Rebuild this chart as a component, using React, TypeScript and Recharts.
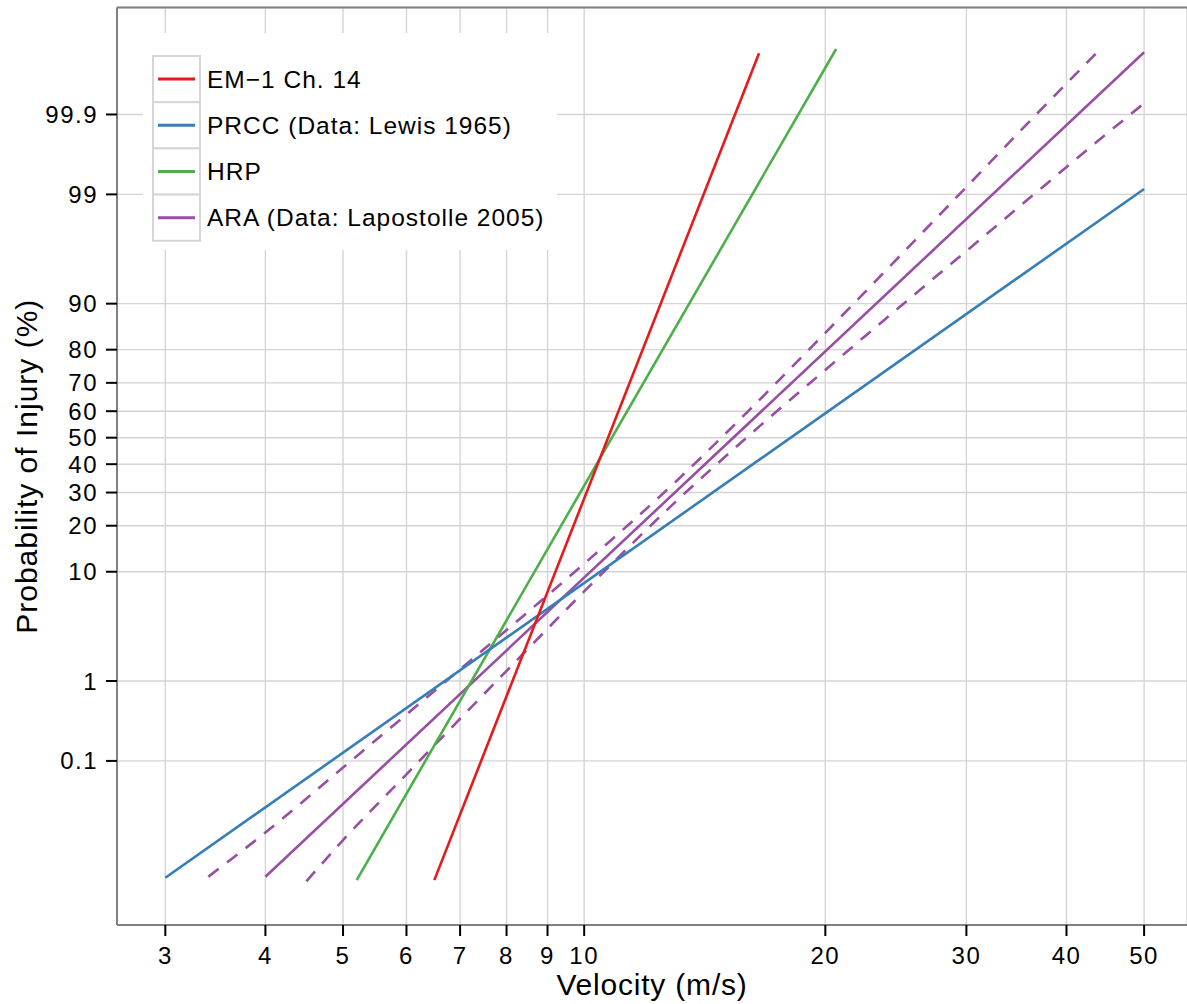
import React from 'react';
import {
  LineChart,
  Line,
  XAxis,
  YAxis,
  CartesianGrid,
  ReferenceLine,
  Legend,
  Label,
} from 'recharts';

// each line: velocity (m/s) -> normal score (probit) of the injury probability
const emLine = [
  { v: 6.5, z: -4.23 },
  { v: 16.53, z: 3.675 },
];
const prccLine = [
  { v: 3, z: -4.207 },
  { v: 50, z: 2.378 },
];
const hrpLine = [
  { v: 5.2, z: -4.229 },
  { v: 20.63, z: 3.716 },
];
const araLine = [
  { v: 4.0, z: -4.197 },
  { v: 50, z: 3.685 },
];
// ARA confidence band (dashed)
const araUpper = [
  { v: 3.395, z: -4.197 },
  { v: 4, z: -3.775 },
  { v: 5, z: -3.154 },
  { v: 6, z: -2.646 },
  { v: 7, z: -2.214 },
  { v: 8, z: -1.839 },
  { v: 10, z: -1.205 },
  { v: 13, z: -0.423 },
  { v: 16, z: 0.249 },
  { v: 20, z: 1.003 },
  { v: 25, z: 1.768 },
  { v: 30, z: 2.397 },
  { v: 36, z: 3.027 },
  { v: 43.65, z: 3.681 },
];
const araLower = [
  { v: 4.5, z: -4.241 },
  { v: 5, z: -3.847 },
  { v: 6, z: -3.218 },
  { v: 7, z: -2.687 },
  { v: 8, z: -2.229 },
  { v: 10, z: -1.47 },
  { v: 13, z: -0.614 },
  { v: 16, z: 0.01 },
  { v: 20, z: 0.648 },
  { v: 25, z: 1.276 },
  { v: 30, z: 1.785 },
  { v: 36, z: 2.293 },
  { v: 43.65, z: 2.829 },
  { v: 50, z: 3.197 },
];

const xTicks = [3, 4, 5, 6, 7, 8, 9, 10, 20, 30, 40, 50];
const yTickLabels = [0.1, 1, 10, 20, 30, 40, 50, 60, 70, 80, 90, 99, 99.9];

const legendItems = [
  { name: 'EM\u22121 Ch. 14', color: '#E41A1C' },
  { name: 'PRCC (Data: Lewis 1965)', color: '#377EB8' },
  { name: 'HRP', color: '#4DAF4A' },
  { name: 'ARA (Data: Lapostolle 2005)', color: '#984EA3' },
];

const font = '"Liberation Sans", Arial, Helvetica, sans-serif';

// inverse normal cdf (Acklam), used for the probit y scale
const probit = (p: number) => {
  const a = [-39.69683028665376, 220.9460984245205, -275.9285104469687, 138.357751867269, -30.66479806614716, 2.506628277459239];
  const b = [-54.47609879822406, 161.5858368580409, -155.6989798598866, 66.80131188771972, -13.28068155288572];
  const c = [-0.007784894002430293, -0.3223964580411365, -2.400758277161838, -2.549732539343734, 4.374664141464968, 2.938163982698783];
  const d = [0.007784695709041462, 0.3224671290700398, 2.445134137142996, 3.754408661907416];
  const pl = 0.02425;
  if (p < pl) {
    const q = Math.sqrt(-2 * Math.log(p));
    return (((((c[0] * q + c[1]) * q + c[2]) * q + c[3]) * q + c[4]) * q + c[5]) /
      ((((d[0] * q + d[1]) * q + d[2]) * q + d[3]) * q + 1);
  }
  if (p > 1 - pl) {
    const q = Math.sqrt(-2 * Math.log(1 - p));
    return -(((((c[0] * q + c[1]) * q + c[2]) * q + c[3]) * q + c[4]) * q + c[5]) /
      ((((d[0] * q + d[1]) * q + d[2]) * q + d[3]) * q + 1);
  }
  const q = p - 0.5;
  const r = q * q;
  return ((((((a[0] * r + a[1]) * r + a[2]) * r + a[3]) * r + a[4]) * r + a[5]) * q) /
    (((((b[0] * r + b[1]) * r + b[2]) * r + b[3]) * r + b[4]) * r + 1);
};

const yTicks = yTickLabels.map((p) => probit(p / 100));
const Y_MIN = -4.659;
const Y_MAX = 4.113;

const yLabel = (value: number) => {
  const i = yTicks.findIndex((t) => Math.abs(t - value) < 1e-6);
  return i >= 0 ? String(yTickLabels[i]) : '';
};

const XTick = (props: any) => (
  <text
    x={props.x}
    y={props.y}
    dy="0.71em"
    textAnchor="middle"
    fontSize={24}
    fontFamily={font}
    letterSpacing={1.5}
    fill="#000"
  >
    {props.payload.value}
  </text>
);

const YTick = (props: any) => (
  <text
    x={props.x}
    y={props.y}
    dy="0.355em"
    textAnchor="end"
    fontSize={24}
    fontFamily={font}
    letterSpacing={1.5}
    fill="#000"
  >
    {yLabel(props.payload.value)}
  </text>
);

const renderLegend = () => (
  <svg width={414} height={217} style={{ display: 'block', background: '#fff' }}>
    {legendItems.map((item, i) => {
      const top = 23 + i * 46.2;
      const cy = top + 23.1;
      return (
        <g key={item.name}>
          <rect x={10} y={top} width={47} height={46.2} fill="#fff" stroke="#d6d6d6" strokeWidth={2} />
          <line x1={15} x2={52} y1={cy} y2={cy} stroke={item.color} strokeWidth={3} />
          <text
            x={64}
            y={cy}
            dominantBaseline="central"
            fontSize={24.5}
            fontFamily={font}
            letterSpacing={1}
            fill="#000"
          >
            {item.name}
          </text>
        </g>
      );
    })}
  </svg>
);

const renderXTitle = (props: any) => {
  const vb = props.viewBox;
  return (
    <text
      x={vb.x + vb.width / 2}
      y={995}
      textAnchor="middle"
      fontSize={30}
      fontFamily={font}
      letterSpacing={0.8}
      fill="#000"
    >
      Velocity (m/s)
    </text>
  );
};

const renderYTitle = (props: any) => {
  const vb = props.viewBox;
  const cy = vb.y + vb.height / 2;
  return (
    <text
      x={26}
      y={cy}
      transform={`rotate(-90 26 ${cy})`}
      textAnchor="middle"
      dominantBaseline="central"
      fontSize={30}
      fontFamily={font}
      letterSpacing={1}
      fill="#000"
    >
      Probability of Injury (%)
    </text>
  );
};

const App = () => {
  return (
    <div style={{ width: 1187, height: 1004, background: '#fff' }}>
      <style>{'body{margin:0}'}</style>
      <LineChart width={1187} height={1004} margin={{ top: 7.5, right: 0, bottom: 0, left: 0 }}>
        <CartesianGrid stroke="#d4d4d4" strokeWidth={1.4} />
        <XAxis
          dataKey="v"
          type="number"
          scale="log"
          domain={[2.611, 56.56]}
          allowDataOverflow
          ticks={xTicks}
          interval={0}
          height={79}
          tickSize={11}
          tickMargin={11}
          axisLine={{ stroke: '#808080', strokeWidth: 2 }}
          tickLine={{ stroke: '#000', strokeWidth: 2 }}
          tick={<XTick />}
        >
          <Label content={renderXTitle} />
        </XAxis>
        <YAxis
          type="number"
          domain={[Y_MIN, Y_MAX]}
          allowDataOverflow
          ticks={yTicks}
          interval={0}
          width={117}
          tickSize={11}
          tickMargin={8}
          axisLine={{ stroke: '#808080', strokeWidth: 2 }}
          tickLine={{ stroke: '#000', strokeWidth: 2 }}
          tick={<YTick />}
        >
          <Label content={renderYTitle} />
        </YAxis>
        <ReferenceLine y={Y_MAX} stroke="#808080" strokeWidth={2} />
        <Line data={araUpper} dataKey="z" type="monotone" stroke="#984EA3" strokeWidth={2.6} strokeDasharray="13 10.5" dot={false} legendType="none" isAnimationActive={false} />
        <Line data={araLower} dataKey="z" type="monotone" stroke="#984EA3" strokeWidth={2.6} strokeDasharray="13 10.5" dot={false} legendType="none" isAnimationActive={false} />
        <Line data={araLine} dataKey="z" type="linear" stroke="#984EA3" strokeWidth={2.6} dot={false} isAnimationActive={false} />
        <Line data={hrpLine} dataKey="z" type="linear" stroke="#4DAF4A" strokeWidth={2.6} dot={false} isAnimationActive={false} />
        <Line data={prccLine} dataKey="z" type="linear" stroke="#377EB8" strokeWidth={2.6} dot={false} isAnimationActive={false} />
        <Line data={emLine} dataKey="z" type="linear" stroke="#E41A1C" strokeWidth={2.6} dot={false} isAnimationActive={false} />
        <Legend
          layout="vertical"
          align="center"
          verticalAlign="middle"
          wrapperStyle={{ position: 'absolute', left: 143, top: 33, width: 414, height: 217 }}
          content={renderLegend}
        />
      </LineChart>
    </div>
  );
};

export default App;
